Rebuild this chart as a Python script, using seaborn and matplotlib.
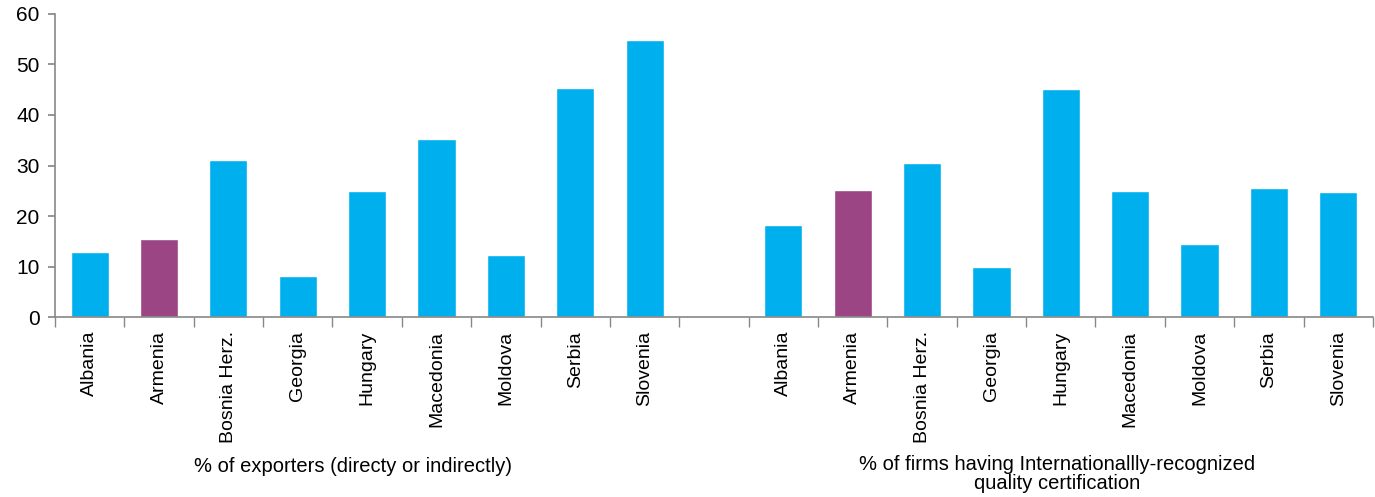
import pandas as pd
import seaborn as sns
import matplotlib.pyplot as plt
import matplotlib.transforms as mtransforms

countries = ["Albania", "Armenia", "Bosnia Herz.", "Georgia", "Hungary",
             "Macedonia", "Moldova", "Serbia", "Slovenia"]
exporters = [12.9, 15.4, 31.1, 8.1, 25.0, 35.2, 12.2, 45.3, 54.9]
certified = [18.3, 25.1, 30.4, 9.9, 45.1, 24.9, 14.5, 25.5, 24.7]
group_titles = ["% of exporters (directy or indirectly)",
                "% of firms having Internationallly-recognized\nquality certification"]
highlight = "Armenia"

BLUE = "#00B0EE"
PURPLE = "#9B4585"

sns.set_theme(style="white")
plt.rcParams['font.family'] = ['Liberation Sans', 'DejaVu Sans']
plt.rcParams['text.color'] = "black"

# build a long table, one key per slot so that both groups sit side by side
rows = []
for g, vals in enumerate([exporters, certified]):
    for c, v in zip(countries, vals):
        rows.append({"key": f"{g}_{c}", "country": c, "value": v})
df = pd.DataFrame(rows)
order = [f"0_{c}" for c in countries] + ["gap"] + [f"1_{c}" for c in countries]
palette = {k: (PURPLE if k.endswith(highlight) else BLUE) for k in df["key"]}

fig = plt.figure(figsize=(13.75, 4.97), dpi=100)
ax = fig.add_axes([0.04, 0.362, 0.9585, 0.61])

sns.barplot(data=df, x="key", y="value", hue="key", order=order, palette=palette,
            width=0.55, legend=False, saturation=1, ax=ax)

ax.set_ylim(0, 60)
ax.set_xlim(-0.5, len(order) - 0.5)
ax.set_yticks(range(0, 61, 10))
ax.tick_params(axis="y", labelsize=15, length=5, color="#888888", labelcolor="black", left=True, pad=6)
ax.set_xticks(range(len(order)))
ax.set_xticklabels(countries + [""] + countries, rotation=90, fontsize=14)
ax.tick_params(axis="x", length=0, pad=10, labelcolor="black")
ax.set_xticks([i - 0.5 for i in range(len(order) + 1)], minor=True)
ax.tick_params(axis="x", which="minor", length=7, color="#888888", bottom=True)
ax.set_xlabel("")
ax.set_ylabel("")

for side in ["top", "right"]:
    ax.spines[side].set_visible(False)
for side in ["left", "bottom"]:
    ax.spines[side].set_color("#888888")
    ax.spines[side].set_linewidth(1.2)

trans = mtransforms.blended_transform_factory(ax.transData, fig.transFigure)
ax.text(3.8, 1 - 467 / 497, group_titles[0], transform=trans, ha="center", va="center", fontsize=14.5)
ax.text(13.95, 1 - 474 / 497, group_titles[1], transform=trans, ha="center", va="center",
        fontsize=14.5, linespacing=1.05)

fig.savefig("out.png", dpi=100)
